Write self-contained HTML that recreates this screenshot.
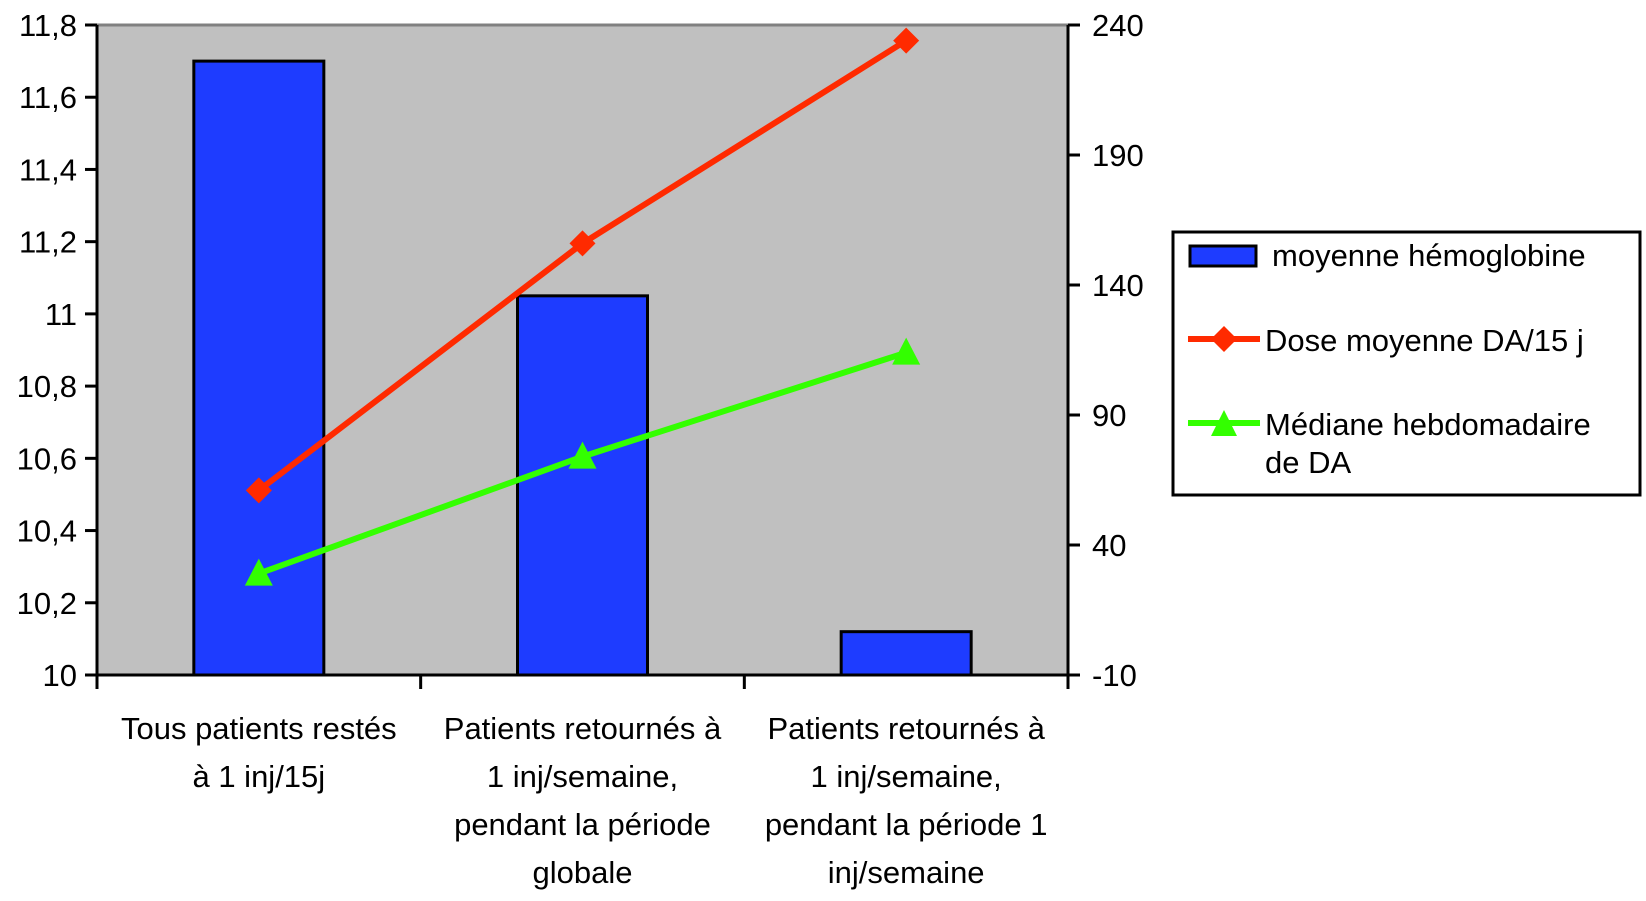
<!DOCTYPE html>
<html><head><meta charset="utf-8"><style>
body{margin:0;background:#fff}
svg text{font-family:"Liberation Sans",sans-serif;fill:#000}
</style></head><body>
<svg id="chart" width="1646" height="896" xmlns="http://www.w3.org/2000/svg"></svg>
<script>
const categories=[["Tous patients restés","à 1 inj/15j"],["Patients retournés à","1 inj/semaine,","pendant la période","globale"],["Patients retournés à","1 inj/semaine,","pendant la période  1","inj/semaine"]];
const hemoglobine=[11.7,11.05,10.12];
const doseMoyenne=[61,156,234];
const medianeHebdo=[29,74,114];
const leftTicks=["10","10,2","10,4","10,6","10,8","11","11,2","11,4","11,6","11,8"];
const rightTicks=["-10","40","90","140","190","240"];

const NS="http://www.w3.org/2000/svg";
const svg=document.getElementById('chart');
const L=97,R=1068,T=25,B=675;
const yL=v=>B-(v-10)/1.8*(B-T);
const yR=v=>B-(v+10)/250*(B-T);
const cw=(R-L)/categories.length;
const xc=i=>L+cw*(i+0.5);
function mk(tag,attrs,name,parent){const e=document.createElementNS(NS,tag);for(const k in attrs)e.setAttribute(k,attrs[k]);


(parent||svg).appendChild(e);return e;}
mk('rect',{x:L,y:T,width:R-L,height:B-T,fill:'#c0c0c0'},'plot-area');
mk('line',{x1:L,y1:T,x2:R,y2:T,stroke:'#808080','stroke-width':3},'plot-top-border');
hemoglobine.forEach((v,i)=>{mk('rect',{x:xc(i)-65,y:yL(v),width:130,height:B-yL(v),fill:'#1e3cff',stroke:'#000','stroke-width':3},'bar-hemoglobine-'+(i+1));});
mk('line',{x1:L,y1:T,x2:L,y2:B+2,stroke:'#000','stroke-width':3},'left-axis');
mk('line',{x1:R,y1:T,x2:R,y2:B+2,stroke:'#000','stroke-width':3},'right-axis');
mk('line',{x1:L-1,y1:B,x2:R+1,y2:B,stroke:'#000','stroke-width':3},'x-axis');
leftTicks.forEach((t,i)=>{const y=yL(10+i*0.2);mk('line',{x1:L-12,y1:y,x2:L,y2:y,stroke:'#000','stroke-width':3},'left-tick');
const tx=mk('text',{x:L-20,y:y+11,'text-anchor':'end','font-size':31},'left-tick-label');tx.textContent=t;});
rightTicks.forEach((t,i)=>{const y=yR(-10+i*50);mk('line',{x1:R,y1:y,x2:R+12,y2:y,stroke:'#000','stroke-width':3},'right-tick');
const tx=mk('text',{x:R+24,y:y+11,'font-size':31},'right-tick-label');tx.textContent=t;});
for(let i=0;i<=categories.length;i++){const x=L+cw*i;mk('line',{x1:x,y1:B,x2:x,y2:B+14,stroke:'#000','stroke-width':3},'x-tick');}
categories.forEach((c,i)=>{const tx=mk('text',{x:xc(i),'text-anchor':'middle','font-size':31},'x-category-label');
c.forEach((ln,j)=>{const s=document.createElementNS(NS,'tspan');s.setAttribute('x',xc(i));s.setAttribute('y',739+j*48);s.textContent=ln;tx.appendChild(s);});});
function series(vals,color,name,marker){
 const pts=vals.map((v,i)=>xc(i)+','+yR(v)).join(' ');
 mk('polyline',{points:pts,fill:'none',stroke:color,'stroke-width':6},name+'-line');
 vals.forEach((v,i)=>{const x=xc(i),y=yR(v);
  if(marker==='d')mk('polygon',{points:`${x},${y-13} ${x+13},${y} ${x},${y+13} ${x-13},${y}`,fill:color},name+'-point');
  else mk('polygon',{points:`${x},${y-15} ${x+14},${y+12} ${x-14},${y+12}`,fill:color},name+'-point');});
}
series(doseMoyenne,'#ff2a00','dose-moyenne','d');
series(medianeHebdo,'#33ff00','mediane-hebdo','t');
const lg=mk('g',{},'legend');
mk('rect',{x:1173,y:232,width:467,height:263,fill:'#fff',stroke:'#000','stroke-width':3},'legend-box',lg);
mk('rect',{x:1190,y:246,width:66,height:20,fill:'#1e3cff',stroke:'#000','stroke-width':3},'legend-swatch-hemoglobine',lg);
let t=mk('text',{x:1272,y:266,'font-size':31},'legend-label-hemoglobine',lg);t.textContent='moyenne hémoglobine';
mk('line',{x1:1188,y1:339,x2:1260,y2:339,stroke:'#ff2a00','stroke-width':6},'legend-line-dose',lg);
mk('polygon',{points:'1224,326 1237,339 1224,352 1211,339',fill:'#ff2a00'},'legend-marker-dose',lg);
t=mk('text',{x:1265,y:351,'font-size':31},'legend-label-dose',lg);t.textContent='Dose moyenne DA/15 j';
mk('line',{x1:1188,y1:423,x2:1260,y2:423,stroke:'#33ff00','stroke-width':6},'legend-line-mediane',lg);
mk('polygon',{points:'1224,410 1237,436 1211,436',fill:'#33ff00'},'legend-marker-mediane',lg);
t=mk('text',{x:1265,y:435,'font-size':31},'legend-label-mediane',lg);t.textContent='Médiane hebdomadaire';
t=mk('text',{x:1265,y:473,'font-size':31},'legend-label-mediane-2',lg);t.textContent='de DA';
</script>
</body></html>
